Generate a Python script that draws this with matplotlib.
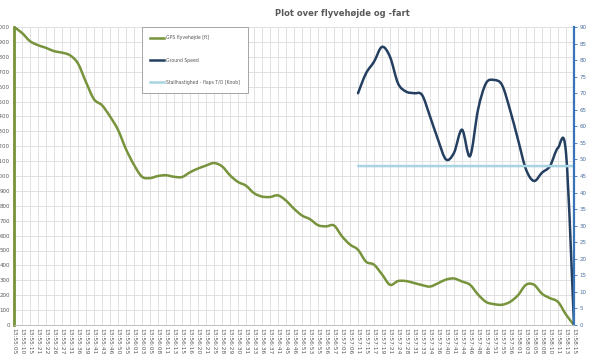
import numpy as np
import matplotlib
matplotlib.use("Agg")
import matplotlib.pyplot as plt
from matplotlib.path import Path
from matplotlib.patches import PathPatch
from matplotlib.lines import Line2D

times = [
    "13:55:05", "13:55:10", "13:55:15", "13:55:21", "13:55:22", "13:55:26", "13:55:27",
    "13:55:31", "13:55:36", "13:55:39", "13:55:41", "13:55:43", "13:55:46", "13:55:50",
    "13:55:55", "13:56:01", "13:56:03", "13:56:05", "13:56:08", "13:56:11", "13:56:13",
    "13:56:15", "13:56:16", "13:56:20", "13:56:21", "13:56:25", "13:56:28", "13:56:29",
    "13:56:30", "13:56:31", "13:56:33", "13:56:36", "13:56:37", "13:56:41", "13:56:45",
    "13:56:46", "13:56:51", "13:56:53", "13:56:55", "13:56:56", "13:56:57", "13:57:01",
    "13:57:06", "13:57:11", "13:57:15", "13:57:17", "13:57:19", "13:57:21", "13:57:24",
    "13:57:28", "13:57:31", "13:57:33", "13:57:34", "13:57:36", "13:57:40", "13:57:41",
    "13:57:44", "13:57:46", "13:57:48", "13:57:49", "13:57:51", "13:57:55", "13:57:56",
    "13:58:01", "13:58:03", "13:58:05", "13:58:08", "13:58:10", "13:58:11", "13:58:13",
    "13:58:15",
]

altitude_ft = [
    2000, 1960, 1905, 1878, 1860, 1838, 1828, 1810, 1755, 1630,
    1515, 1475, 1400, 1310, 1180, 1075, 995, 986, 1000, 1005,
    995, 993, 1025, 1050, 1070, 1087, 1065, 1005, 960, 935,
    885, 862, 859, 870, 835, 780, 735, 710, 670, 662,
    668, 595, 540, 505, 425, 405, 340, 270, 295, 295,
    282, 268, 258, 280, 305, 312, 292, 270, 205, 155,
    140, 136, 155, 200, 270, 270, 210, 180, 155, 70,
    0,
]

# ground speed only logged from 13:57:11 onwards
ground_speed = [np.nan] * 43 + [
    70, 76, 79.5, 84, 81, 73, 70.5, 70, 69.5, 63,
    56, 50, 52, 59, 51, 65, 73, 74, 72.5, 65,
    56, 47, 43.5, 46, 48, 53.5, 52, 0,
]

stall_speed = [np.nan] * 43 + [48] * 28

GREEN = "#77933C"
NAVY = "#243F60"
LIGHT = "#A8D3E3"
AXBLUE = "#3A74B8"
GRAY = "#595959"


def smooth_line(ax, xs, ys, color, lw):
    # Excel-style smoothed line: cubic Bezier through every point
    xs = np.asarray(xs, float)
    ys = np.asarray(ys, float)
    ok = ~np.isnan(ys)
    px, py = xs[ok], ys[ok]
    n = len(px)
    verts = [(px[0], py[0])]
    codes = [Path.MOVETO]
    for i in range(n - 1):
        x0, y0 = (px[i - 1], py[i - 1]) if i > 0 else (px[i], py[i])
        x3, y3 = (px[i + 2], py[i + 2]) if i + 2 < n else (px[i + 1], py[i + 1])
        c1 = (px[i] + (px[i + 1] - x0) / 6, py[i] + (py[i + 1] - y0) / 6)
        c2 = (px[i + 1] - (x3 - px[i]) / 6, py[i + 1] - (y3 - py[i]) / 6)
        verts += [c1, c2, (px[i + 1], py[i + 1])]
        codes += [Path.CURVE4] * 3
    patch = PathPatch(Path(verts, codes), facecolor="none", edgecolor=color,
                      lw=lw, capstyle="round", joinstyle="round")
    ax.add_patch(patch)


def main():
    fig = plt.figure(figsize=(5.92, 3.60), dpi=100)
    ax = fig.add_axes([14 / 592, 35 / 360, 560 / 592, 298 / 360])
    ax2 = ax.twinx()

    x = np.arange(len(times))
    smooth_line(ax, x, altitude_ft, GREEN, 1.8)
    smooth_line(ax2, x, ground_speed, NAVY, 1.8)
    smooth_line(ax2, x, stall_speed, LIGHT, 1.8)

    ax.set_xlim(0, len(times) - 1)
    ax.set_ylim(0, 2000)
    ax.set_yticks(np.arange(0, 2001, 100))
    ax2.set_ylim(0, 90)
    ax2.set_yticks(np.arange(0, 91, 5))

    ax.set_xticks(x)
    ax.set_xticklabels(times, rotation=-90, fontsize=4.2, color=GRAY)
    ax.tick_params(axis="x", length=0, pad=2)
    ax.tick_params(axis="y", length=0, pad=3, labelsize=4, labelcolor=GRAY)
    ax2.tick_params(axis="y", length=2, width=0.6, color=AXBLUE, pad=2,
                    labelsize=4, labelcolor="#4A6FA0")

    ax.grid(True, color="#DCDCDC", lw=0.6)
    ax.set_axisbelow(True)

    for a in (ax, ax2):
        a.spines["top"].set_visible(False)
        a.spines["bottom"].set_color("#BFBFBF")
        a.spines["bottom"].set_linewidth(0.6)
    ax.spines["right"].set_visible(False)
    ax2.spines["left"].set_color(GREEN)
    ax2.spines["left"].set_linewidth(2)
    ax2.spines["right"].set_color(AXBLUE)
    ax2.spines["right"].set_linewidth(1.6)

    fig.text(342 / 592, 1 - 14 / 360, "Plot over flyvehøjde og -fart",
             ha="center", va="center", fontsize=6, color=GRAY, fontweight="bold")

    handles = [
        Line2D([], [], color=GREEN, lw=1.8, label="GPS flyvehøjde [ft]"),
        Line2D([], [], color=NAVY, lw=1.8, label="Ground Speed"),
        Line2D([], [], color=LIGHT, lw=1.8, label="Stallhastighed - flaps T/O [Knob]"),
    ]
    leg = ax2.legend(handles=handles, loc="upper left",
                     bbox_to_anchor=(142 / 592, 1 - 27 / 360),
                     bbox_transform=fig.transFigure, fontsize=3.3,
                     handlelength=3, handletextpad=0.4, labelspacing=3.8,
                     borderpad=1.8, borderaxespad=0, fancybox=False,
                     framealpha=1, edgecolor="#A6A6A6")
    leg.get_frame().set_linewidth(0.7)
    for t in leg.get_texts():
        t.set_color(GRAY)

    fig.savefig("out.png", dpi=100)


if __name__ == "__main__":
    main()
